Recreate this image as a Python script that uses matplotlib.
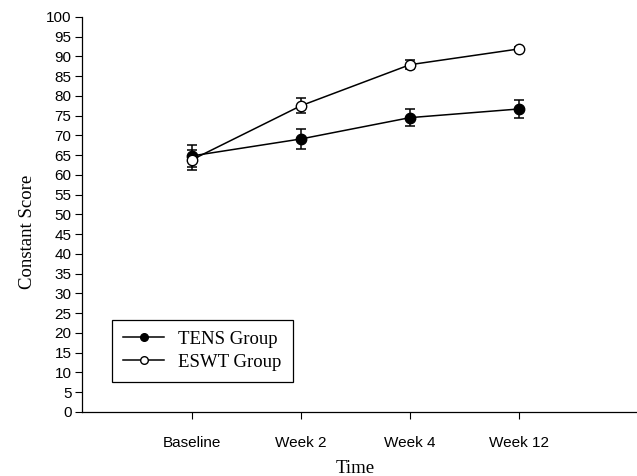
import matplotlib.pyplot as plt
from matplotlib.lines import Line2D

# Constant score over follow-up, mean with error bars
timepoints = ["Baseline", "Week 2", "Week 4", "Week 12"]
tens_mean = [64.8, 69.1, 74.5, 76.7]
tens_err = [2.8, 2.5, 2.2, 2.2]
eswt_mean = [63.8, 77.5, 87.9, 91.9]
eswt_err = [2.5, 1.9, 1.2, 0.6]

x = list(range(1, len(timepoints) + 1))

fig = plt.figure(figsize=(6.37, 4.76), dpi=100)
ax = fig.add_axes([0.1295, 0.1345, 0.8705, 0.830])

ax.errorbar(x, tens_mean, yerr=tens_err, color="black", marker="o",
            markersize=7.5, markerfacecolor="black", linewidth=1.1,
            elinewidth=1.1, capsize=3.6, capthick=1.1, zorder=3)
ax.errorbar(x, eswt_mean, yerr=eswt_err, color="black", marker="o",
            markersize=7.5, markerfacecolor="white", linewidth=1.1,
            elinewidth=1.1, capsize=3.6, capthick=1.1, zorder=4)

ax.set_xlim(0, 5.08)
ax.set_ylim(0, 100)
ax.set_xticks(x)
ax.set_xticklabels(timepoints, fontfamily="Liberation Sans", fontsize=11)
ax.set_yticks(range(0, 101, 5))
ax.set_yticklabels([str(v) for v in range(0, 101, 5)],
                   fontfamily="Liberation Sans", fontsize=11)
ax.tick_params(direction="out", length=5, width=0.8, pad=3)
ax.tick_params(axis="x", pad=12)

for side in ("top", "right"):
    ax.spines[side].set_visible(False)
for side in ("left", "bottom"):
    ax.spines[side].set_linewidth(0.9)

ax.set_xlabel("Time", fontfamily="Liberation Serif", fontsize=13.5)
ax.xaxis.set_label_coords(0.491, -0.142)
ax.xaxis.label.set_va("center")
ax.set_ylabel("Constant Score", fontfamily="Liberation Serif", fontsize=13.5)
ax.yaxis.set_label_coords(-0.100, 0.456)
ax.yaxis.label.set_va("center")

# legend shows plain line + marker, no error bars
handles = [
    Line2D([], [], color="black", linewidth=1.1, marker="o", markersize=5.5,
           markerfacecolor="black"),
    Line2D([], [], color="black", linewidth=1.1, marker="o", markersize=5.5,
           markerfacecolor="white"),
]
leg = ax.legend(handles, ["TENS Group", "ESWT Group"], loc="lower left",
                bbox_to_anchor=(0.053, 0.076), borderaxespad=0,
                prop={"family": "Liberation Serif", "size": 13.5},
                frameon=True, fancybox=False, edgecolor="black",
                framealpha=1, handlelength=2.2, borderpad=0.6,
                labelspacing=0.3, handletextpad=0.75)
leg.get_frame().set_linewidth(0.9)

fig.savefig("out.png", dpi=100)
